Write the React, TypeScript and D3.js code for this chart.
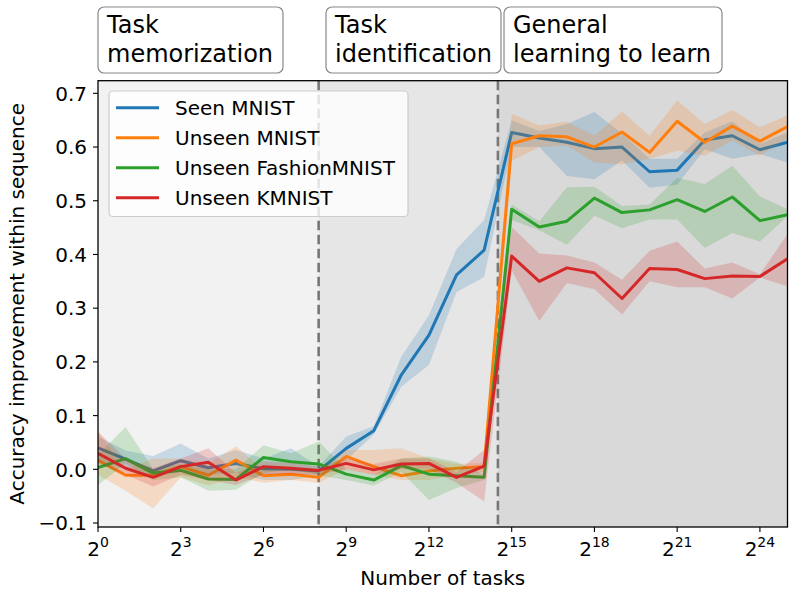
import React from "react";
import * as d3 from "d3";

const exponents = d3.range(0, 26);
const xTickExps = [0, 3, 6, 9, 12, 15, 18, 21, 24];
const yTicks = [-0.1, 0, 0.1, 0.2, 0.3, 0.4, 0.5, 0.6, 0.7];

const seriesNames = ["Seen MNIST", "Unseen MNIST", "Unseen FashionMNIST", "Unseen KMNIST"];
const seriesColors = ["#1f77b4", "#ff7f0e", "#2ca02c", "#d62728"];

const seenMean = [0.040, 0.019, -0.003, 0.016, 0.003, 0.011, 0.001, 0.000, -0.003, 0.039, 0.072, 0.176, 0.250, 0.362, 0.408, 0.627, 0.617, 0.609, 0.597, 0.600, 0.554, 0.557, 0.613, 0.621, 0.595, 0.609];
const seenLo = [0.017, 0.0, -0.015, -0.004, -0.01, -0.007, -0.02, -0.02, -0.012, 0.017, 0.065, 0.154, 0.194, 0.33, 0.358, 0.60, 0.60, 0.546, 0.540, 0.575, 0.524, 0.530, 0.596, 0.578, 0.587, 0.571];
const seenHi = [0.061, 0.035, 0.025, 0.048, 0.02, 0.036, 0.02, 0.039, 0.005, 0.061, 0.08, 0.21, 0.287, 0.41, 0.464, 0.65, 0.63, 0.643, 0.665, 0.625, 0.578, 0.578, 0.627, 0.648, 0.606, 0.627];

const unseenMean = [0.017, -0.011, -0.011, 0.005, -0.011, 0.017, -0.012, -0.009, -0.015, 0.024, 0.005, -0.012, -0.003, 0.002, 0.005, 0.606, 0.621, 0.619, 0.600, 0.628, 0.590, 0.648, 0.609, 0.639, 0.611, 0.638];
const unseenLo = [-0.01, -0.04, -0.073, -0.015, -0.03, -0.014, -0.025, -0.02, -0.025, 0.0, -0.01, -0.02, -0.02, -0.01, -0.005, 0.574, 0.60, 0.603, 0.571, 0.568, 0.578, 0.593, 0.584, 0.612, 0.584, 0.615];
const unseenHi = [0.07, 0.0, 0.02, 0.02, 0.01, 0.043, 0.0, 0.0, -0.005, 0.036, 0.036, 0.039, 0.02, 0.01, 0.012, 0.662, 0.64, 0.647, 0.621, 0.666, 0.621, 0.687, 0.643, 0.669, 0.637, 0.659];

const fashionMean = [0.003, 0.020, -0.007, -0.002, -0.018, -0.019, 0.022, 0.014, 0.010, -0.009, -0.020, 0.007, -0.009, -0.012, -0.015, 0.484, 0.451, 0.462, 0.505, 0.478, 0.483, 0.502, 0.480, 0.507, 0.463, 0.474];
const fashionLo = [-0.029, 0.011, -0.02, -0.015, -0.04, -0.038, -0.007, 0.0, -0.011, -0.02, -0.03, -0.005, -0.057, -0.035, -0.02, 0.464, 0.445, 0.418, 0.472, 0.449, 0.465, 0.465, 0.412, 0.440, 0.424, 0.471];
const fashionHi = [0.027, 0.079, 0.0, 0.01, 0.0, 0.0, 0.045, 0.03, 0.052, 0.0, -0.01, 0.02, 0.024, 0.014, -0.01, 0.493, 0.462, 0.525, 0.526, 0.490, 0.493, 0.543, 0.531, 0.565, 0.508, 0.484];

const kmnistMean = [0.030, 0.002, -0.015, 0.005, 0.013, -0.020, 0.005, 0.002, -0.002, 0.011, -0.001, 0.010, 0.011, -0.015, 0.006, 0.397, 0.350, 0.375, 0.366, 0.318, 0.374, 0.372, 0.355, 0.360, 0.359, 0.392];
const kmnistLo = [0.011, -0.01, -0.032, -0.01, -0.02, -0.029, -0.01, -0.01, -0.01, 0.0, -0.01, 0.0, 0.0, -0.025, -0.06, 0.37, 0.276, 0.347, 0.335, 0.288, 0.350, 0.339, 0.339, 0.318, 0.357, 0.341];
const kmnistHi = [0.07, 0.02, 0.002, 0.02, 0.039, -0.007, 0.015, 0.012, 0.005, 0.02, 0.01, 0.02, 0.02, -0.005, 0.036, 0.451, 0.402, 0.398, 0.385, 0.353, 0.407, 0.424, 0.374, 0.385, 0.363, 0.438];

const phaseBounds = [0, 8, 14.5, 25];
const phaseLabels = [["Task", "memorization"], ["Task", "identification"], ["General", "learning to learn"]];
const phaseFills = ["#f2f2f2", "#e6e6e6", "#d9d9d9"];

const means = [seenMean, unseenMean, fashionMean, kmnistMean];
const los = [seenLo, unseenLo, fashionLo, kmnistLo];
const his = [seenHi, unseenHi, fashionHi, kmnistHi];

const FONT = "DejaVu Sans, sans-serif";

export default function App() {
  const W = 793, H = 592;
  const left = 98, right = 787.5, top = 80.7, bottom = 527;
  const x = d3.scaleLog().base(2).domain([1, Math.pow(2, 25)]).range([left, right]);
  const y = d3.scaleLinear().domain([-0.1074, 0.7235]).range([bottom, top]);
  const xe = (e: number) => x(Math.pow(2, e));

  const lineGen = d3.line<number>().x((_, i) => xe(exponents[i])).y((d) => y(d));
  const areaGen = d3
    .area<number>()
    .x((_, i) => xe(exponents[i]))
    .y0((_, i) => 0)
    .y1((d) => y(d));

  const bandPath = (lo: number[], hi: number[]) =>
    d3
      .area<number>()
      .x((_, i) => xe(exponents[i]))
      .y0((_, i) => y(lo[i]))
      .y1((_, i) => y(hi[i]))(exponents as any) as string;

  const boxes = [
    { x0: 98, x1: 283 },
    { x0: 326, x1: 501 },
    { x0: 504, x1: 722 },
  ];

  return (
    <svg width={W} height={H} style={{ position: "absolute", left: 0, top: 0 }} fontFamily={FONT}>
      <rect x={0} y={0} width={W} height={H} fill="#ffffff" />
      <defs>
        <clipPath id="plotclip">
          <rect x={left} y={top} width={right - left} height={bottom - top} />
        </clipPath>
      </defs>
      {/* phase backgrounds */}
      {phaseFills.map((f, i) => (
        <rect
          key={"ph" + i}
          x={xe(phaseBounds[i])}
          y={top}
          width={xe(phaseBounds[i + 1]) - xe(phaseBounds[i])}
          height={bottom - top}
          fill={f}
        />
      ))}
      {/* dashed boundaries */}
      {[phaseBounds[1], phaseBounds[2]].map((b, i) => (
        <line
          key={"db" + i}
          x1={xe(b)}
          x2={xe(b)}
          y1={top}
          y2={bottom}
          stroke="#777777"
          strokeWidth={2.6}
          strokeDasharray="9.5,4.5"
        />
      ))}
      <g clipPath="url(#plotclip)">
        {means.map((m, si) => (
          <g key={"s" + si}>
            <path d={bandPath(los[si], his[si])} fill={seriesColors[si]} fillOpacity={0.2} stroke="none" />
            <path
              d={lineGen(m) as string}
              fill="none"
              stroke={seriesColors[si]}
              strokeWidth={3}
              strokeLinejoin="round"
              strokeLinecap="butt"
            />
          </g>
        ))}
      </g>
      {/* frame */}
      <rect x={left} y={top} width={right - left} height={bottom - top} fill="none" stroke="#000" strokeWidth={1.3} />
      {/* y ticks */}
      {yTicks.map((t) => (
        <g key={"yt" + t}>
          <line x1={left - 5} x2={left} y1={y(t)} y2={y(t)} stroke="#000" strokeWidth={1.1} />
          <text x={left - 11} y={y(t)} dy="0.36em" textAnchor="end" fontSize={20} fill="#000">
            {t < 0 ? "\u2212" + Math.abs(t).toFixed(1) : t.toFixed(1)}
          </text>
        </g>
      ))}
      {/* x ticks */}
      {xTickExps.map((e) => (
        <g key={"xt" + e}>
          <line x1={xe(e)} x2={xe(e)} y1={bottom} y2={bottom + 5} stroke="#000" strokeWidth={1.1} />
          <text x={xe(e)} y={556} textAnchor="middle" fontSize={20} fill="#000">
            2
            <tspan dy={-9} fontSize={14}>
              {String(e)}
            </tspan>
          </text>
        </g>
      ))}
      <text x={(left + right) / 2} y={585} textAnchor="middle" fontSize={20} fill="#000">
        Number of tasks
      </text>
      <text
        transform={`translate(24, ${(top + bottom) / 2}) rotate(-90)`}
        textAnchor="middle"
        fontSize={20}
        fill="#000"
      >
        Accuracy improvement within sequence
      </text>
      {/* legend */}
      <g>
        <rect x={109} y={91} width={299} height={125.5} rx={4} ry={4} fill="#ffffff" fillOpacity={0.8} stroke="#cccccc" strokeWidth={1.2} />
        {seriesNames.map((n, i) => (
          <g key={"lg" + i}>
            <line x1={116} x2={159} y1={107.7 + i * 30} y2={107.7 + i * 30} stroke={seriesColors[i]} strokeWidth={3} />
            <text x={175} y={107.7 + i * 30} dy="0.36em" fontSize={20} fill="#000">
              {n}
            </text>
          </g>
        ))}
      </g>
      {/* phase annotation boxes */}
      {boxes.map((b, i) => (
        <g key={"bx" + i}>
          <rect x={b.x0} y={7} width={b.x1 - b.x0} height={66} rx={6} ry={6} fill="#ffffff" stroke="#888888" strokeWidth={1.2} />
          <text x={b.x0 + 9} y={33} fontSize={24} fill="#000">
            {phaseLabels[i][0]}
          </text>
          <text x={b.x0 + 9} y={62} fontSize={24} fill="#000">
            {phaseLabels[i][1]}
          </text>
        </g>
      ))}
    </svg>
  );
}
